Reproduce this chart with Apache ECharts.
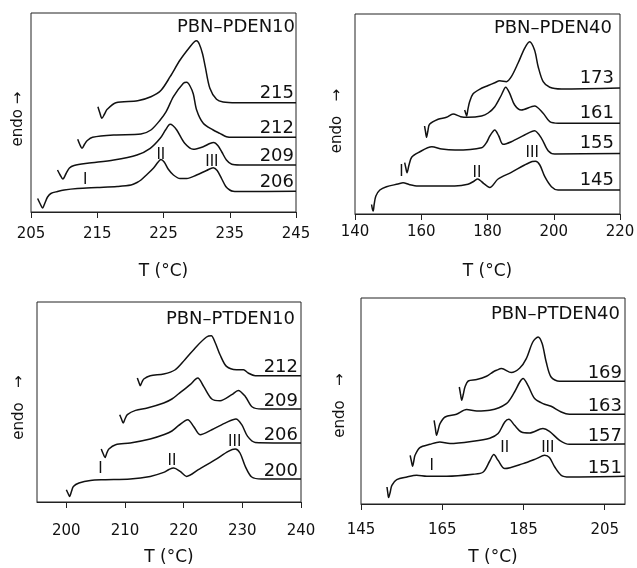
<!DOCTYPE html>
<html><head><meta charset="utf-8">
<script src="https://cdn.jsdelivr.net/npm/echarts@6/dist/echarts.min.js"></script>
<style>html,body{margin:0;padding:0;background:#fff}#c{width:637px;height:568px}</style>
</head><body><div id="c"></div>
<script>
// ---------- DATA (T in °C, heat flow in arbitrary units) ----------
const panelTitles = ['PBN–PDEN10', 'PBN–PDEN40', 'PBN–PTDEN10', 'PBN–PTDEN40'];
const xTicks1 = [205, 215, 225, 235, 245];
const xTicks2 = [140, 160, 180, 200, 220];
const xTicks3 = [200, 210, 220, 230, 240];
const xTicks4 = [145, 165, 185, 205];

// Panel 1: PBN–PDEN10
const p1Names = ['206', '209', '212', '215'];
const p1c206 = [[206.0,13.5],[206.4,8],[206.75,4],[207.1,9],[207.5,15],[208.0,18.5],[209.0,20.5],[210.0,22],[212.0,23.5],[215.0,24.5],[218.0,25.5],[220.1,27],[221.0,29.5],[221.6,32],[222.5,37.5],[223.5,44],[224.2,50],[224.6,52.5],[225.1,50],[225.7,43],[226.5,37],[227.5,33.5],[228.5,33.5],[230.0,37],[231.5,41.5],[232.5,44.3],[233.1,41.5],[233.8,33],[234.4,25.5],[235.0,22],[235.5,20.8],[237.0,20.5],[245.0,20.8]];
const p1c209 = [[209.0,42],[209.4,37],[209.8,33],[210.3,38.5],[210.8,44],[211.5,46.5],[213.5,48.7],[217.5,52],[221.0,57],[223.0,63.7],[224.5,73.7],[225.3,82],[226.0,87.7],[226.4,86.5],[227.0,82],[228.2,68.7],[229.5,62.7],[231.0,65.3],[232.0,68.5],[232.6,69.5],[233.2,66.5],[233.8,60],[234.5,52],[235.3,47.7],[236.5,47],[245.0,47]];
const p1c212 = [[212.05,72.7],[212.4,67],[212.7,63.7],[213.1,68],[213.5,71.5],[214.3,74.7],[217.6,77],[221.6,78],[223.1,82],[224.5,92],[225.4,100.3],[226.5,115.3],[228.0,128.7],[228.5,129.7],[229.0,126],[229.5,118],[230.0,102],[231.0,88.7],[232.5,82],[233.5,78.7],[234.5,75.3],[235.5,74.7],[245.0,74.7]];
const p1c215 = [[215.1,105.3],[215.4,99],[215.7,93.7],[216.1,98],[216.5,102.7],[217.8,109.3],[221.1,111.3],[223.1,115.3],[224.6,121.5],[226.0,135.3],[227.5,152],[229.0,165.3],[229.7,170.5],[230.0,171.3],[230.4,168],[230.9,158],[231.3,145.3],[232.0,123.7],[233.0,112.7],[234.0,110],[236.0,109.3],[245.0,109.3]];
const p1Romans = [['I',213.2,32],['II',224.6,57],['III',232.3,50]];

// Panel 2: PBN–PDEN40
const p2Names = ['145', '155', '161', '173'];
const p2c145 = [[145.0,9.5],[145.25,5],[145.5,3],[145.8,10],[146.3,18],[147.5,24],[149.5,27.3],[153.0,30],[154.5,31.3],[156.5,29.3],[159.0,28],[170.1,28],[174.1,29.7],[176.0,33],[177.0,35],[177.8,33.5],[178.8,30.7],[180.7,26.5],[183.2,35],[187.2,41.7],[191.2,49],[193.5,52.5],[194.5,52.8],[195.8,49],[197.3,37.3],[199.3,27.3],[201.3,24],[220.0,24]];
const p2c155 = [[155.0,51.3],[155.35,46],[155.7,41.3],[156.3,49],[157.1,56.7],[159.1,61.3],[163.2,67.3],[166.2,65],[170.2,64],[178.2,66.3],[179.8,72],[180.7,78],[182.2,84],[183.4,78],[184.7,69.7],[187.2,72.3],[191.2,79],[194.2,83.3],[196.3,75.7],[198.3,63.3],[200.3,60],[220.0,60.5]];
const p2c161 = [[161.0,88],[161.3,82],[161.6,76.7],[162.0,83],[162.5,89.7],[165.1,94.7],[167.6,96.7],[169.6,100],[171.9,97.3],[174.1,96.7],[178.2,98],[180.2,101],[182.2,107.3],[184.2,119],[185.5,126.7],[186.7,120.7],[188.2,109],[190.2,104],[194.2,108],[196.8,100.7],[198.8,92.3],[201.3,90.7],[220.0,90.7]];
const p2c173 = [[173.1,104],[173.4,101],[173.7,98],[174.1,105],[174.6,112.3],[175.6,120],[177.6,124.7],[180.2,128.5],[182.2,131.3],[183.7,133.3],[185.7,132.3],[187.2,137.3],[189.2,150.7],[191.2,165.7],[192.7,172.3],[194.2,164],[195.3,147.3],[196.8,132.3],[198.8,126.7],[202.3,125],[220.0,126]];
const p2Romans = [['I',154.0,41.5],['II',176.8,41],['III',193.5,60.7]];

// Panel 3: PBN–PTDEN10
const p3Names = ['200', '206', '209', '212'];
const p3c200 = [[200.0,12.3],[200.3,8.5],[200.55,5.6],[200.9,11],[201.2,15.6],[202.15,19],[204.1,21.6],[206.4,22.3],[210.9,23],[214.3,25.6],[216.6,29.6],[217.5,32.5],[218.3,34],[219.4,30.6],[220.5,25.6],[222.5,32.3],[225.4,42.3],[227.6,50.6],[228.8,53],[229.6,49],[230.5,35.6],[231.6,25],[233.3,23],[240.0,23]];
const p3c206 = [[205.95,53],[206.3,48],[206.6,44.6],[206.9,49],[207.25,53],[208.4,57.3],[210.9,59],[214.3,63],[216.7,67.5],[218.0,71],[219.1,76.3],[220.7,82.3],[221.7,75.6],[222.8,67.3],[224.8,72.3],[227.3,79.6],[228.9,83],[229.9,77.3],[230.9,65.6],[232.2,59.6],[240.0,59]];
const p3c209 = [[209.1,87.3],[209.4,83],[209.7,79],[210.0,83],[210.4,87.3],[211.8,91.6],[213.8,94],[216.6,99],[218.0,103],[219.1,108],[221.1,117.3],[222.4,124],[223.4,115.6],[224.8,103],[226.2,101.3],[228.2,107.3],[229.3,111.6],[230.5,105.6],[231.7,95],[233.3,93],[240.0,93]];
const p3c212 = [[212.1,124],[212.35,120],[212.6,116.3],[212.9,120],[213.2,123],[214.3,126.3],[216.6,128],[218.5,132],[220.2,142.3],[222.2,155.6],[223.9,165],[224.7,166.3],[225.4,159],[226.2,147.3],[227.3,135.6],[229.0,132.3],[230.2,132.3],[231.0,129],[232.2,126.3],[240.0,126.3]];
const p3Romans = [['I',205.8,33],['II',218.0,40.6],['III',228.7,59.5]];

// Panel 4: PBN–PTDEN40
const p4Names = ['151', '157', '163', '169'];
const p4c151 = [[151.4,17],[151.6,11],[151.8,6.4],[152.2,12],[152.6,18.7],[153.8,24.4],[156.3,27],[158.7,28.7],[161.2,27.7],[166.1,27.7],[172.6,29.7],[175.1,32],[176.7,43],[177.7,49.4],[178.75,43.7],[180.4,35.4],[184.9,40.4],[188.2,45.4],[190.2,48.7],[191.4,46.4],[192.7,37],[194.3,28.7],[196.3,27],[210.0,27.7]];
const p4c157 = [[157.1,48.7],[157.4,43],[157.7,37.7],[158.0,43],[158.3,48.7],[159.5,56.4],[162.0,59.7],[164.4,62],[166.9,60.4],[172.6,62.7],[176.7,65.8],[178.75,70.4],[180.4,82],[181.4,84.7],[182.8,78.7],[184.5,72],[186.5,71],[189.8,75.4],[191.4,72.7],[193.9,63.7],[196.3,59.7],[210.0,60]];
const p4c163 = [[163.0,83.7],[163.3,76],[163.6,68.7],[164.0,74],[164.45,80.4],[165.7,87],[168.5,89.7],[171.0,94.4],[173.5,93],[176.7,93.7],[180.8,100.4],[182.8,112],[184.1,122],[184.9,125.4],[186.1,118.7],[187.75,105.4],[189.8,100.4],[191.8,97.7],[194.3,92],[196.3,89.7],[210.0,89.7]];
const p4c169 = [[169.2,117],[169.5,110],[169.8,103.7],[170.2,110],[170.6,117],[171.4,123],[173.5,124.4],[175.9,127.7],[177.5,132],[178.35,133.7],[179.6,135.4],[182.0,131.4],[184.1,136],[185.7,145.4],[187.3,162],[188.6,167],[189.6,160.4],[190.6,142],[191.8,127],[193.9,122.7],[210.0,122.7]];
const p4Romans = [['I',162.4,37.9],['II',180.4,55.4],['III',191.0,55.4]];

// ---------- LAYOUT ----------
const FONT = 'DejaVu Sans';
const INK = '#111111';
const panels = [
  {names:p1Names, curves:[p1c206,p1c209,p1c212,p1c215], romans:p1Romans, ticks:xTicks1, xMin:205, xMax:245, yMax:199,
   grid:{left:31, top:13, width:265, height:199}, margin:15, nameGap:51, title:{right:342, top:18},
   endo:{x:18.3, y:119, text:'endo →'}, lblOff:[-2,-9]},
  {names:p2Names, curves:[p2c145,p2c155,p2c161,p2c173], romans:p2Romans, ticks:xTicks2, xMin:140, xMax:220, yMax:200,
   grid:{left:355, top:14, width:265, height:200}, margin:11, nameGap:49.5, title:{right:25, top:19},
   endo:{x:337, y:121, text:'endo   →'}, lblOff:[-6,-10]},
  {names:p3Names, curves:[p3c200,p3c206,p3c209,p3c212], romans:p3Romans, ticks:xTicks3, xMin:195, xMax:240, yMax:200,
   grid:{left:37, top:302, width:264, height:200}, margin:22, nameGap:47.5, title:{right:342, top:310},
   endo:{x:19.5, y:407.5, text:'endo   →'}, lblOff:[-3,-8]},
  {names:p4Names, curves:[p4c151,p4c157,p4c163,p4c169], romans:p4Romans, ticks:xTicks4, xMin:145, xMax:210, yMax:206,
   grid:{left:361, top:298, width:264, height:206}, margin:19, nameGap:45, title:{right:17, top:305},
   endo:{x:340.5, y:405.5, text:'endo   →'}, lblOff:[-3,-8]}
];

const grids = [], xAxes = [], yAxes = [], series = [], titles = [], graphics = [];
panels.forEach((p, i) => {
  grids.push(Object.assign({show:true, borderColor:'#222', borderWidth:1, outerBoundsMode:'none', containLabel:false}, p.grid));
  xAxes.push({
    gridIndex:i, type:'value', min:p.xMin, max:p.xMax,
    axisLine:{show:true, onZero:false, lineStyle:{color:'#222', width:1}},
    axisTick:{show:true, inside:false, length:6, customValues:p.ticks, lineStyle:{color:'#222', width:1}},
    axisLabel:{show:true, customValues:p.ticks, margin:p.margin, fontSize:15, fontFamily:FONT, color:INK},
    splitLine:{show:false},
    name:'T (°C)', nameLocation:'middle', nameGap:p.nameGap,
    nameTextStyle:{fontSize:17, fontFamily:FONT, color:INK}
  });
  yAxes.push({gridIndex:i, type:'value', min:0, max:p.yMax, show:false, splitLine:{show:false}});
  p.curves.forEach((c, k) => {
    series.push({
      type:'line', name:p.names[k], xAxisIndex:i, yAxisIndex:i, data:c,
      smooth:0.3, showSymbol:false, symbol:'none', silent:true,
      lineStyle:{color:INK, width:1.5}
    });
  });
  series.push({
    type:'scatter', xAxisIndex:i, yAxisIndex:i, symbolSize:0, clip:false, silent:true,
    itemStyle:{color:INK},
    data:p.curves.map((c, k) => ({name:p.names[k], value:c[c.length-1]})),
    label:{show:true, formatter:'{b}', position:'inside', align:'right', verticalAlign:'middle',
           offset:p.lblOff, fontSize:18, fontFamily:FONT, color:INK, opacity:1}
  });
  series.push({
    type:'scatter', xAxisIndex:i, yAxisIndex:i, symbolSize:0, clip:false, silent:true,
    itemStyle:{color:INK},
    data:p.romans.map(r => ({name:r[0], value:[r[1], r[2]]})),
    label:{show:true, formatter:'{b}', position:'inside', align:'center', verticalAlign:'middle',
           fontSize:15, fontFamily:FONT, color:INK, opacity:1}
  });
  titles.push({text:panelTitles[i], right:p.title.right, top:p.title.top, padding:0,
    textStyle:{fontSize:18, fontWeight:'normal', fontFamily:FONT, color:INK}});
  graphics.push({type:'text', x:p.endo.x, y:p.endo.y, rotation:Math.PI/2, silent:true,
    style:{text:p.endo.text, font:'15px "DejaVu Sans"', fill:INK, textAlign:'center', textVerticalAlign:'middle'}});
});

const chart = echarts.init(document.getElementById('c'), null, {renderer:'canvas'});
chart.setOption({
  animation:false, backgroundColor:'#fff',
  title:titles, grid:grids, xAxis:xAxes, yAxis:yAxes, series:series, graphic:graphics
});
</script></body></html>
